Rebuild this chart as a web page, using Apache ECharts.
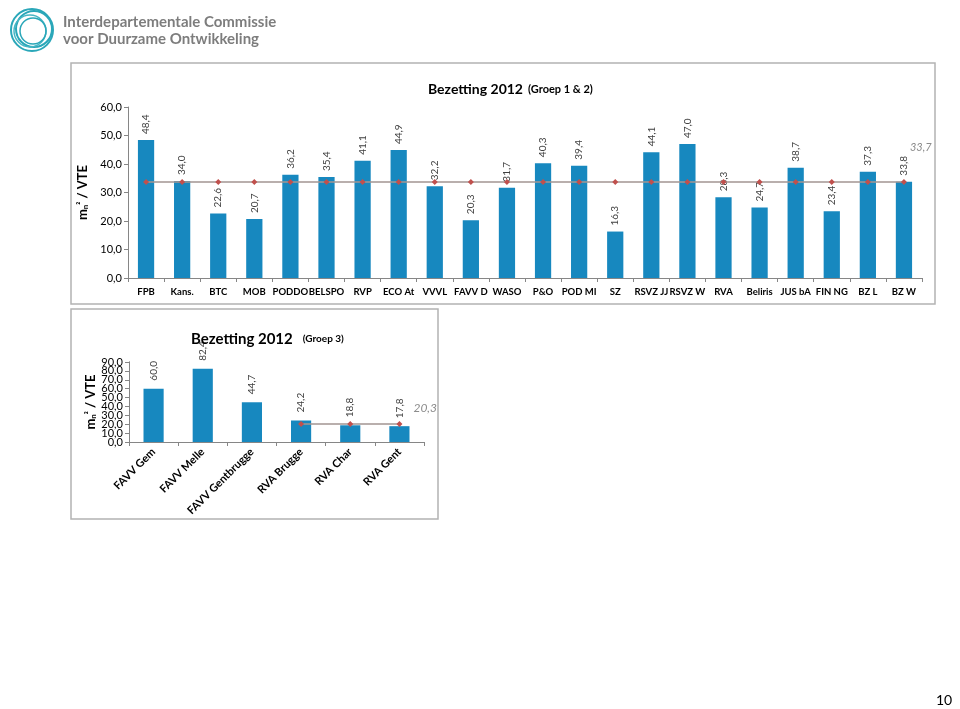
<!DOCTYPE html>
<html><head><meta charset="utf-8">
<script src="https://cdn.jsdelivr.net/npm/echarts@6/dist/echarts.min.js"></script>
<style>html,body{margin:0;padding:0;background:#fff}#c{width:960px;height:709px}</style>
</head><body><div id="c"></div>
<script>
const cats1 = ['FPB','Kans.','BTC','MOB','PODDO','BELSPO','RVP','ECO At','VVVL','FAVV D','WASO','P&O','POD MI','SZ','RSVZ JJ','RSVZ W','RVA','Beliris','JUS bA','FIN NG','BZ L','BZ W'];
const vals1 = [48.4,34.0,22.6,20.7,36.2,35.4,41.1,44.9,32.2,20.3,31.7,40.3,39.4,16.3,44.1,47.0,28.3,24.7,38.7,23.4,37.3,33.8];
const avg1 = 33.7;
const cats2 = ['FAVV Gem','FAVV Melle','FAVV Gentbrugge','RVA Brugge','RVA Char','RVA Gent'];
const vals2 = [60.0,82.4,44.7,24.2,18.8,17.8];
const avg2 = 20.3;
const avg2From = 3; // line starts at RVA Brugge
const ticks1 = {min:0,max:60,interval:10};
const ticks2 = {min:0,max:90,interval:10};

const fmt = v => Number(v).toFixed(1).replace('.', ',');
const barColor = '#1788bf';
const lineColor = '#a39593';
const markColor = '#c0504d';
const font = 'Lato, "Open Sans", sans-serif';

const line1 = cats1.map(() => avg1);
const line2 = cats2.map((c,i) => i >= avg2From ? avg2 : null);

const yName = {
  name: '{m|m}{n|n}{s|²}{m| / VTE}',
  nameLocation: 'middle',
  nameRotate: 90,
  nameTextStyle: {rich: {
    m: {fontFamily: font, fontWeight: 'bold', fontSize: 13, color: '#000'},
    n: {fontFamily: font, fontWeight: 'bold', fontSize: 8, color: '#000', verticalAlign: 'bottom'},
    s: {fontFamily: font, fontWeight: 'bold', fontSize: 9, color: '#000', verticalAlign: 'top'}
  }}
};

const axisCommon = {
  axisLine: {show: true, lineStyle: {color: '#868686'}},
  axisTick: {show: true, length: 4, lineStyle: {color: '#868686'}},
  splitLine: {show: false}
};

// bottom chart: labels split over two overlaid axes so that none of them is dropped
const evenFmt = v => (Math.round(v / ticks2.interval) % 2 === 0 ? fmt(v) : '');
const oddFmt = v => (Math.round(v / ticks2.interval) % 2 === 1 ? fmt(v) : '');

const chart = echarts.init(document.getElementById('c'), null, {renderer: 'canvas'});
chart.setOption({
  animation: false,
  backgroundColor: '#fff',
  title: [
    {left: 423, top: 75, text: '{a|Bezetting 2012} {b|(Groep 1 & 2)}',
     textStyle: {rich: {a: {fontFamily: font, fontWeight: 'bold', fontSize: 14, color: '#000'},
                        b: {fontFamily: font, fontWeight: 'bold', fontSize: 11, color: '#000'}}}},
    {left: 186, top: 325, text: '{a|Bezetting 2012}  {b|(Groep 3)}',
     textStyle: {rich: {a: {fontFamily: font, fontWeight: 'bold', fontSize: 15, color: '#000'},
                        b: {fontFamily: font, fontWeight: 'bold', fontSize: 10, color: '#000'}}}}
  ],
  grid: [
    {left: 128, right: 38, top: 107, bottom: 431, containLabel: false},
    {left: 129, right: 536, top: 362, bottom: 267, containLabel: false}
  ],
  xAxis: [
    {type: 'category', gridIndex: 0, data: cats1,
     axisLine: {lineStyle: {color: '#868686'}},
     axisTick: {show: true, length: 4, lineStyle: {color: '#868686'}},
     axisLabel: {interval: 0, hideOverlap: false, fontFamily: font, fontWeight: 'bold', fontSize: 9.5, color: '#000', margin: 9}},
    {type: 'category', gridIndex: 1, data: cats2,
     axisLine: {lineStyle: {color: '#868686'}},
     axisTick: {show: true, length: 4, lineStyle: {color: '#868686'}},
     axisLabel: {interval: 0, rotate: 45, fontFamily: font, fontWeight: 'bold', fontSize: 11, color: '#000', margin: 8}}
  ],
  yAxis: [
    Object.assign({type: 'value', gridIndex: 0, min: ticks1.min, max: ticks1.max, interval: ticks1.interval, nameGap: 27,
     axisLabel: {formatter: fmt, fontFamily: font, fontSize: 11, color: '#000', margin: 6}}, axisCommon, yName),
    Object.assign({type: 'value', gridIndex: 1, min: ticks2.min, max: ticks2.max, interval: ticks2.interval, nameGap: 25,
     axisLabel: {formatter: evenFmt, showMinLabel: true, showMaxLabel: true, fontFamily: font, fontSize: 11, color: '#000', margin: 6}}, axisCommon, yName),
    Object.assign({type: 'value', gridIndex: 1, position: 'left', offset: 0, min: ticks2.min, max: ticks2.max, interval: ticks2.interval,
     axisLabel: {formatter: oddFmt, showMinLabel: true, showMaxLabel: true, fontFamily: font, fontSize: 11, color: '#000', margin: 6}}, axisCommon)
  ],
  series: [
    {type: 'bar', xAxisIndex: 0, yAxisIndex: 0, data: vals1, barWidth: '45%',
     itemStyle: {color: barColor},
     label: {show: true, position: 'top', rotate: 90, align: 'left', verticalAlign: 'middle', distance: 6,
             formatter: p => fmt(p.value), fontFamily: font, fontSize: 10, color: '#404040'}},
    {type: 'line', xAxisIndex: 0, yAxisIndex: 0, data: line1, z: 5,
     symbol: 'diamond', symbolSize: 6, itemStyle: {color: markColor},
     lineStyle: {color: lineColor, width: 1.5},
     endLabel: {show: true, formatter: p => fmt(p.value), fontFamily: font, fontStyle: 'italic', fontSize: 11, color: '#8c8c8c', offset: [-2, -35]}},
    {type: 'bar', xAxisIndex: 1, yAxisIndex: 1, data: vals2, barWidth: '41%',
     itemStyle: {color: barColor},
     label: {show: true, position: 'top', rotate: 90, align: 'left', verticalAlign: 'middle', distance: 8,
             formatter: p => fmt(p.value), fontFamily: font, fontSize: 10, color: '#404040'}},
    {type: 'line', xAxisIndex: 1, yAxisIndex: 1, data: line2, z: 5,
     symbol: 'diamond', symbolSize: 6, itemStyle: {color: markColor},
     lineStyle: {color: lineColor, width: 1.5},
     endLabel: {show: true, formatter: p => fmt(p.value), fontFamily: font, fontStyle: 'italic', fontSize: 12, color: '#8c8c8c', offset: [6, -16]}}
  ],
  graphic: [
    {type: 'rect', shape: {x: 71, y: 63, width: 864, height: 241}, style: {fill: 'none', stroke: '#b3b3b3', lineWidth: 1.5}, z: -1},
    {type: 'rect', shape: {x: 71, y: 309, width: 367, height: 210}, style: {fill: 'none', stroke: '#b3b3b3', lineWidth: 1.5}, z: -1},
    {type: 'circle', shape: {cx: 32, cy: 30, r: 21}, style: {fill: 'none', stroke: '#2aa7b9', lineWidth: 2}},
    {type: 'circle', shape: {cx: 34, cy: 29, r: 18}, style: {fill: 'none', stroke: '#2aa7b9', lineWidth: 2}},
    {type: 'circle', shape: {cx: 30, cy: 31, r: 16}, style: {fill: 'none', stroke: '#48b6c4', lineWidth: 1.5}},
    {type: 'circle', shape: {cx: 33, cy: 31, r: 13}, style: {fill: 'none', stroke: '#2aa7b9', lineWidth: 1.5}},
    {type: 'text', left: 63, top: 15, style: {text: 'Interdepartementale Commissie', font: 'bold 15px ' + font, fill: '#7d7d7d'}},
    {type: 'text', left: 63, top: 32, style: {text: 'voor Duurzame Ontwikkeling', font: 'bold 15px ' + font, fill: '#7d7d7d'}},
    {type: 'text', left: 936, top: 693, style: {text: '10', font: '14px ' + font, fill: '#000'}}
  ]
});
</script></body></html>
